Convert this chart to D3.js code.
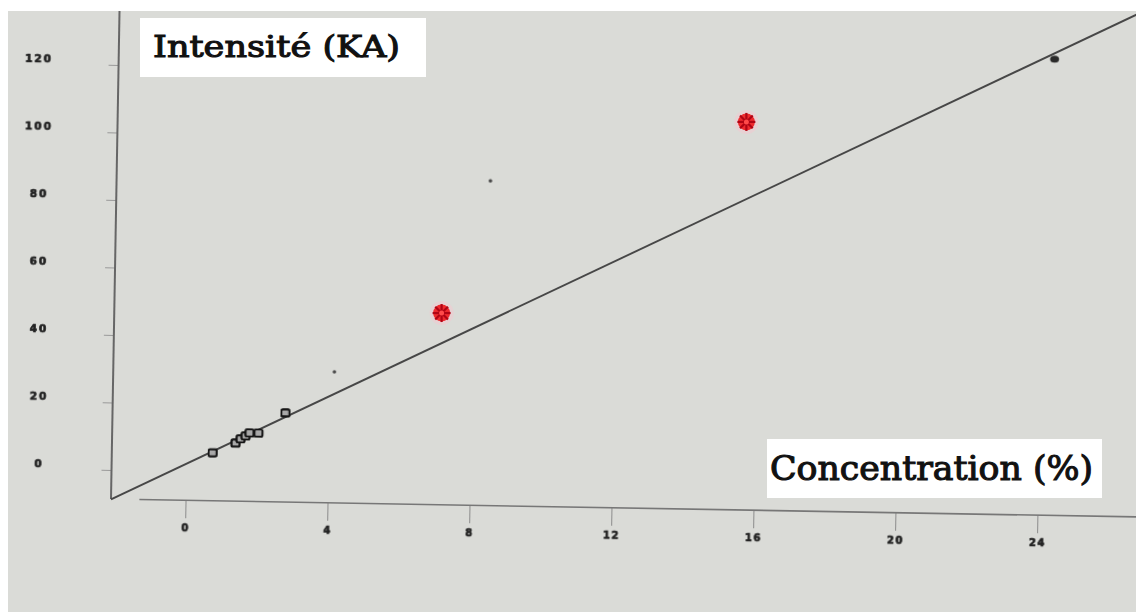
<!DOCTYPE html>
<html>
<head>
<meta charset="utf-8">
<script src="https://cdn.jsdelivr.net/npm/d3@7"></script>
<style>
  html, body { margin: 0; padding: 0; background: #ffffff; }
  svg { display: block; }
</style>
</head>
<body>
<svg id="chart" width="1136" height="612"></svg>
<script>
// ---- data ----
const xTicks = [0, 4, 8, 12, 16, 20, 24];
const yTicks = [0, 20, 40, 60, 80, 100, 120];

// calibration standards (open squares)
const standardsX = [0.74, 1.38, 1.52, 1.66, 1.77, 2.02, 2.77];
const standardsY = [5.6, 8.6, 9.9, 10.8, 11.7, 11.7, 17.8];

// highest standard (filled point)
const highX = [24.26];
const highY = [126.6];

// samples (red stars)
const samplesX = [7.12, 15.61];
const samplesY = [48.2, 106.4];

// small stray marks
const strayX = [4.13, 8.43];
const strayY = [30.2, 87.6];

// fitted calibration line endpoints
const fitX = [-2.1, 27.2];
const fitY = [-8.74, 143.6];

const yTitle = "Intensité (KA)";
const xTitle = "Concentration (%)";

// ---- drawing ----
const svg = d3.select("#chart");
const W = 1136, H = 612;
const scan = { x: 8, y: 11, w: W - 8, h: H - 11 };

svg.append("rect")
  .attr("x", scan.x).attr("y", scan.y).attr("width", scan.w).attr("height", scan.h)
  .attr("fill", "#dadbd7");

const defs = svg.append("defs");
defs.append("clipPath").attr("id", "clip")
  .append("rect").attr("x", scan.x).attr("y", scan.y).attr("width", scan.w).attr("height", scan.h);
const blur = defs.append("filter").attr("id", "soft");
blur.append("feGaussianBlur").attr("stdDeviation", 0.6);

const angle = 1; // scan is slightly rotated
const sinA = Math.sin(angle * Math.PI / 180);

const g = svg.append("g").attr("clip-path", "url(#clip)")
  .append("g").attr("transform", `translate(111,499) rotate(${angle})`);

const x = d3.scaleLinear().domain([-2.1, 27.2]).range([0, 29.3 * 35.5]);
const y = d3.scaleLinear().domain([-8.6, 140]).range([0, -148.6 * 3.375]);

const labelStyle = sel => sel
  .attr("font-family", "DejaVu Sans").attr("font-weight", "bold")
  .attr("fill", "#222").attr("stroke", "#222").attr("stroke-width", 0.7)
  .attr("filter", "url(#soft)");

// x axis
const xAxisG = g.append("g").call(
  d3.axisBottom(x).tickValues(xTicks).tickSize(18).tickPadding(6).tickSizeOuter(0)
);
xAxisG.select(".domain").remove();
xAxisG.selectAll(".tick line").attr("stroke", "#8c8c8c").attr("stroke-width", 1);
xAxisG.selectAll(".tick text").call(labelStyle)
  .attr("font-size", 10).attr("letter-spacing", 1.5);

// y axis
const yAxisG = g.append("g").call(
  d3.axisLeft(y).tickValues(yTicks).tickSize(10).tickSizeOuter(0)
);
yAxisG.select(".domain").remove();
yAxisG.selectAll(".tick line").attr("stroke", "#9a9a9a").attr("stroke-width", 1);
yAxisG.selectAll(".tick text")
  .attr("text-anchor", "middle")
  .attr("x", d => -72 + (y(d) - 5.5) * sinA)
  .attr("y", -5.5)
  .call(labelStyle)
  .attr("font-size", 10.5).attr("letter-spacing", 2);

// axis lines
g.append("line")
  .attr("x1", x(-2.1)).attr("x2", x(-2.1))
  .attr("y1", y(-8.6)).attr("y2", y(150))
  .attr("stroke", "#666").attr("stroke-width", 2);
g.append("line")
  .attr("x1", x(-1.3)).attr("x2", x(30))
  .attr("y1", y(-8.6)).attr("y2", y(-8.6))
  .attr("stroke", "#777").attr("stroke-width", 1.6);

// fitted line
const fit = fitX.map((v, i) => ({ x: v, y: fitY[i] }));
g.append("path")
  .datum(fit)
  .attr("d", d3.line().x(d => x(d.x)).y(d => y(d.y)))
  .attr("fill", "none").attr("stroke", "#474747").attr("stroke-width", 1.9);

// standards: open squares
const standards = standardsX.map((v, i) => ({ x: v, y: standardsY[i] }));
g.selectAll("rect.std").data(standards).enter().append("rect")
  .attr("class", "std")
  .attr("x", d => x(d.x) - 4).attr("y", d => y(d.y) - 3.5)
  .attr("width", 8).attr("height", 7).attr("rx", 1.5)
  .attr("fill", "#a9a9a9").attr("stroke", "#151515").attr("stroke-width", 2.2)
  .attr("filter", "url(#soft)");

// high standard: filled dark point
const high = highX.map((v, i) => ({ x: v, y: highY[i] }));
g.selectAll("ellipse.high").data(high).enter().append("ellipse")
  .attr("class", "high")
  .attr("cx", d => x(d.x)).attr("cy", d => y(d.y))
  .attr("rx", 4.5).attr("ry", 3.5)
  .attr("fill", "#2a2a2a").attr("filter", "url(#soft)");

// stray marks
const stray = strayX.map((v, i) => ({ x: v, y: strayY[i] }));
g.selectAll("circle.stray").data(stray).enter().append("circle")
  .attr("class", "stray")
  .attr("cx", d => x(d.x)).attr("cy", d => y(d.y)).attr("r", 1.8)
  .attr("fill", "#4a4a4a").attr("filter", "url(#soft)");

// samples: red stars
const samples = samplesX.map((v, i) => ({ x: v, y: samplesY[i] }));
const star = g.selectAll("g.sample").data(samples).enter().append("g")
  .attr("class", "sample")
  .attr("transform", d => `translate(${x(d.x)},${y(d.y)}) rotate(${-angle})`);
star.append("circle").attr("r", 12).attr("fill", "#f3c9cf").attr("opacity", 0.55);
star.append("circle").attr("r", 8.5).attr("fill", "#ee2a2e");
d3.range(8).forEach(k => {
  const a = k * Math.PI / 4;
  star.append("line")
    .attr("x1", 0).attr("y1", 0)
    .attr("x2", Math.cos(a) * 9).attr("y2", Math.sin(a) * 9)
    .attr("stroke", "#b00414").attr("stroke-width", 2.2);
});
star.append("circle").attr("r", 2.5).attr("fill", "#ff4a4a");

// title boxes (axis titles, not rotated)
function labelBox(txt, bx, by, bw, bh, tx, tb, tl, fs) {
  svg.append("rect").attr("x", bx).attr("y", by).attr("width", bw).attr("height", bh).attr("fill", "#ffffff");
  svg.append("text")
    .attr("x", tx).attr("y", tb)
    .attr("textLength", tl).attr("lengthAdjust", "spacingAndGlyphs")
    .attr("font-family", "DejaVu Serif").attr("font-size", fs)
    .attr("fill", "#111").attr("stroke", "#111").attr("stroke-width", 1.1)
    .text(txt);
}
labelBox(yTitle, 140, 18, 286, 59, 153, 57, 247, 30);
labelBox(xTitle, 767, 439, 335, 59, 770, 480, 323, 33);
</script>
</body>
</html>
